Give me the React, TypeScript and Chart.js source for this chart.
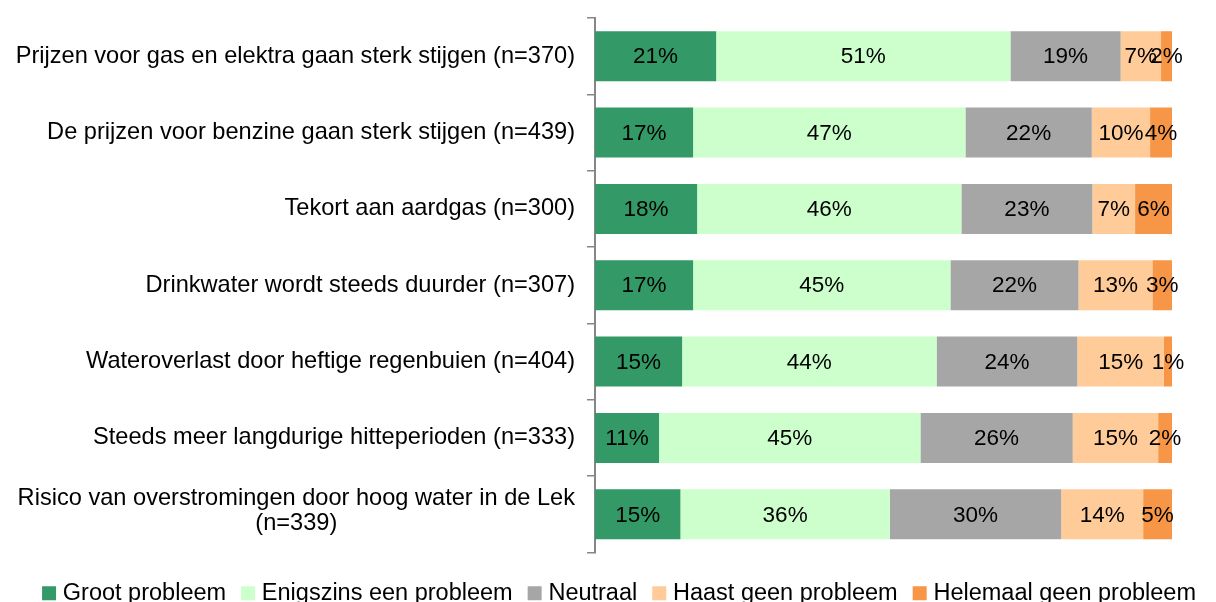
import React, { useEffect, useRef } from 'react';
import { Chart, registerables } from 'chart.js';

Chart.register(...registerables);

const categories: string[][] = [
  ['Prijzen voor gas en elektra gaan sterk stijgen (n=370)'],
  ['De prijzen voor benzine gaan sterk stijgen (n=439)'],
  ['Tekort aan aardgas (n=300)'],
  ['Drinkwater wordt steeds duurder (n=307)'],
  ['Wateroverlast door heftige regenbuien (n=404)'],
  ['Steeds meer langdurige hitteperioden (n=333)'],
  ['Risico van overstromingen door hoog water in de Lek', '(n=339)'],
];

const seriesNames = [
  'Groot probleem',
  'Enigszins een probleem',
  'Neutraal',
  'Haast geen probleem',
  'Helemaal geen probleem',
];

const grootProbleem = [21.0, 17.0, 17.7, 17.0, 15.1, 11.1, 14.8];
const enigszinsProbleem = [51.0, 47.2, 45.8, 44.6, 44.1, 45.3, 36.3];
const neutraal = [19.1, 21.9, 22.7, 22.2, 24.4, 26.4, 29.7];
const haastGeenProbleem = [7.0, 10.1, 7.4, 12.8, 15.0, 14.8, 14.2];
const helemaalGeenProbleem = [1.9, 3.8, 6.4, 3.4, 1.4, 2.4, 5.0];

const seriesColors = ['#339966', '#CCFFCC', '#A6A6A6', '#FFCC99', '#F79646'];

const FONT = "'Liberation Sans', Arial, Helvetica, sans-serif";

export default function App() {
  const canvasRef = useRef<HTMLCanvasElement | null>(null);

  useEffect(() => {
    document.body.style.margin = '0';
    const canvas = canvasRef.current;
    if (!canvas) return;

    const seriesValues = [grootProbleem, enigszinsProbleem, neutraal, haastGeenProbleem, helemaalGeenProbleem];

    const categoryLabelPlugin = {
      id: 'categoryLabels',
      afterDraw(chart: any) {
        const ctx = chart.ctx;
        const yScale = chart.scales.y;
        ctx.save();
        ctx.font = `23.6px ${FONT}`;
        ctx.fillStyle = '#000000';
        ctx.textAlign = 'center';
        ctx.textBaseline = 'middle';
        const rightX = chart.chartArea.left - 20;
        const lineHeight = 25;
        categories.forEach((lines, i) => {
          const cy = yScale.getPixelForValue(i);
          const w = Math.max(...lines.map((l) => ctx.measureText(l).width));
          const cx = rightX - w / 2;
          const top = cy - ((lines.length - 1) * lineHeight) / 2 - (lines.length > 1 ? 3 : 0);
          lines.forEach((l, j) => ctx.fillText(l, cx, top + j * lineHeight));
        });
        ctx.restore();
      },
    };

    const valueLabelPlugin = {
      id: 'valueLabels',
      afterDatasetsDraw(chart: any) {
        const ctx = chart.ctx;
        ctx.save();
        ctx.font = `22.5px ${FONT}`;
        ctx.fillStyle = '#000000';
        ctx.textAlign = 'center';
        ctx.textBaseline = 'middle';
        chart.data.datasets.forEach((ds: any, d: number) => {
          const meta = chart.getDatasetMeta(d);
          meta.data.forEach((el: any, i: number) => {
            const v = ds.data[i];
            const { x, base, y } = el.getProps(['x', 'base', 'y'], true);
            ctx.fillText(`${Math.round(v)}%`, (x + base) / 2, y + 1);
          });
        });
        ctx.restore();
      },
    };

    const chart = new Chart(canvas, {
      type: 'bar',
      data: {
        labels: categories.map((c) => c.join(' ')),
        datasets: seriesNames.map((name, k) => ({
          label: name,
          data: seriesValues[k],
          backgroundColor: seriesColors[k],
          borderWidth: 0,
          categoryPercentage: 1,
          barPercentage: 0.655,
        })),
      },
      options: {
        indexAxis: 'y',
        animation: false,
        responsive: true,
        maintainAspectRatio: false,
        layout: { padding: { top: 18, right: 0, left: 0, bottom: 0 } },
        scales: {
          x: {
            stacked: true,
            min: 0,
            max: 100,
            display: true,
            grid: { display: false },
            border: { display: false },
            ticks: { display: false },
            afterFit(scale: any) {
              scale.height = 9;
            },
          },
          y: {
            stacked: true,
            grid: {
              display: true,
              drawOnChartArea: false,
              drawTicks: true,
              tickLength: 8,
              offset: true,
              color: '#868686',
              lineWidth: 1.5,
            },
            border: { display: true, color: '#868686', width: 2 },
            ticks: { display: false },
            afterFit(scale: any) {
              scale.width = 595;
            },
          },
          yRight: {
            type: 'category',
            labels: [''],
            position: 'right',
            display: true,
            grid: { display: false },
            border: { display: false },
            ticks: { display: false },
            afterFit(scale: any) {
              scale.width = 44;
            },
          },
        },
        plugins: {
          tooltip: { enabled: false },
          legend: {
            display: true,
            position: 'bottom',
            align: 'end',
            labels: {
              usePointStyle: true,
              pointStyle: 'rect',
              boxWidth: 4,
              boxHeight: 14,
              padding: 20,
              color: '#000000',
              font: { family: FONT, size: 23.5 },
            },
          },
        },
      },
      plugins: [categoryLabelPlugin, valueLabelPlugin],
    });

    return () => {
      chart.destroy();
    };
  }, []);

  return (
    <div style={{ width: 1216, height: 602, overflow: 'hidden', background: '#ffffff' }}>
      <div style={{ position: 'relative', width: 1216, height: 615 }}>
        <canvas ref={canvasRef} />
      </div>
    </div>
  );
}
